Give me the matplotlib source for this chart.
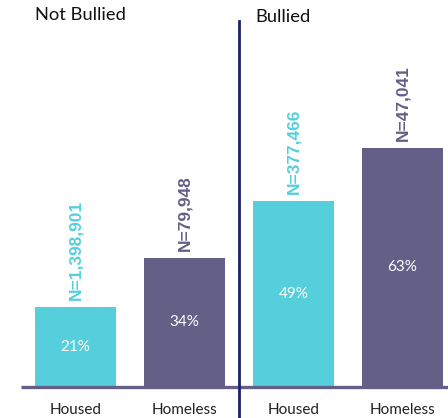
import matplotlib
matplotlib.use('Agg')
import matplotlib.pyplot as plt

plt.rcParams['font.family'] = ['Lato', 'DejaVu Sans']

groups = ['Not Bullied', 'Bullied']
categories = ['Housed', 'Homeless', 'Housed', 'Homeless']
percents = [21, 34, 49, 63]
counts = ['N=1,398,901', 'N=79,948', 'N=377,466', 'N=47,041']

cyan = '#55CFDC'
purple = '#645F87'
navy = '#1E1E6E'
colors = [cyan, purple, cyan, purple]

W, H = 448, 418
fig = plt.figure(figsize=(W / 100, H / 100), dpi=100)
base_px = 387
ax = fig.add_axes([21 / W, 1 - base_px / H, 1 - 21 / W, base_px / H])
pxper = 3.8  # pixels per percent
ax.set_xlim(-0.5, 3.417)
ax.set_ylim(0, base_px / pxper)
ax.axis('off')

x = range(len(percents))
bars = ax.bar(x, percents, width=0.74, color=colors, zorder=2)

for xi, p, n, c in zip(x, percents, counts, colors):
    ax.text(xi, p / 2, f'{p}%', color='white', ha='center', va='center',
            fontsize=11)
    ax.text(xi, p + 1.8, n, color=c, ha='center', va='bottom',
            rotation=90, fontsize=12.5, fontweight='bold',
            family=['Liberation Sans', 'DejaVu Sans'])
    ax.text(xi, -(410 - base_px) / pxper, categories[xi], color='#222222',
            ha='center', va='center', fontsize=11, clip_on=False)

# baseline
ax.plot([-0.5, 3.417], [0, 0], color=purple, lw=2.4, zorder=3,
        solid_capstyle='butt', clip_on=False)

# divider between groups
ax.plot([1.5, 1.5], [-(H - base_px) / pxper, (base_px - 21) / pxper],
        color=navy, lw=2, clip_on=False, zorder=4)

fig.text(35 / W, 1 - 15 / H, groups[0], fontsize=13.2, va='center', ha='left',
         color='#111111')
fig.text(255 / W, 1 - 17 / H, groups[1], fontsize=13.2, va='center', ha='left',
         color='#111111')

plt.savefig('out.png', dpi=100)
